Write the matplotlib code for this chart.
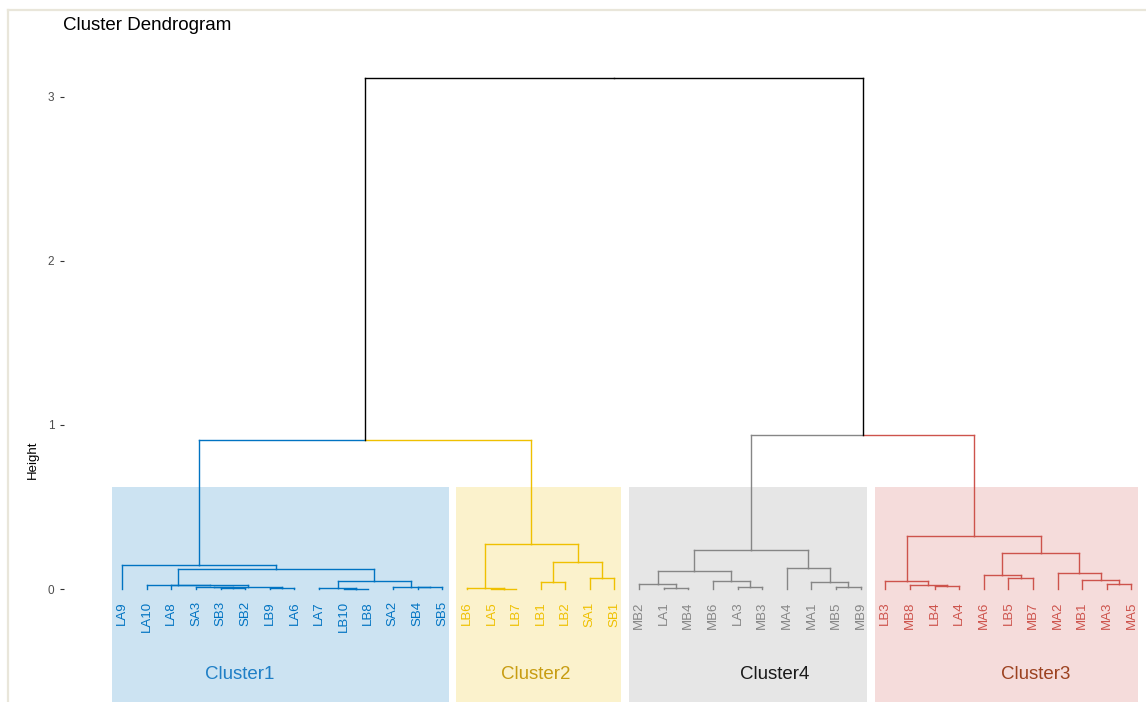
import matplotlib
matplotlib.use("Agg")
import matplotlib.pyplot as plt
from matplotlib.patches import Rectangle
from matplotlib.lines import Line2D

plt.rcParams['font.family'] = ['Liberation Sans', 'DejaVu Sans']

# leaves in dendrogram order
leaves = ["LA9", "LA10", "LA8", "SA3", "SB3", "SB2", "LB9", "LA6", "LA7", "LB10", "LB8", "SA2", "SB4", "SB5",
          "LB6", "LA5", "LB7", "LB1", "LB2", "SA1", "SB1",
          "MB2", "LA1", "MB4", "MB6", "LA3", "MB3", "MA4", "MA1", "MB5", "MB9",
          "LB3", "MB8", "LB4", "LA4", "MA6", "LB5", "MB7", "MA2", "MB1", "MA3", "MA5"]

# merges: (left, right) -> leaf name or index of earlier merge
merges = [
    ("SB3", "SB2"),     # 0
    ("SA3", 0),         # 1
    ("LB9", "LA6"),     # 2
    (1, 2),             # 3
    ("LA8", 3),         # 4
    ("LA10", 4),        # 5
    ("LB10", "LB8"),    # 6
    ("LA7", 6),         # 7
    ("SB4", "SB5"),     # 8
    ("SA2", 8),         # 9
    (7, 9),             # 10
    (5, 10),            # 11
    ("LA9", 11),        # 12  cluster1
    ("LA5", "LB7"),     # 13
    ("LB6", 13),        # 14
    ("LB1", "LB2"),     # 15
    ("SA1", "SB1"),     # 16
    (15, 16),           # 17
    (14, 17),           # 18  cluster2
    ("LA1", "MB4"),     # 19
    ("MB2", 19),        # 20
    ("LA3", "MB3"),     # 21
    ("MB6", 21),        # 22
    (20, 22),           # 23
    ("MB5", "MB9"),     # 24
    ("MA1", 24),        # 25
    ("MA4", 25),        # 26
    (23, 26),           # 27  cluster4
    ("LB4", "LA4"),     # 28
    ("MB8", 28),        # 29
    ("LB3", 29),        # 30
    ("LB5", "MB7"),     # 31
    ("MA6", 31),        # 32
    ("MA3", "MA5"),     # 33
    ("MB1", 33),        # 34
    ("MA2", 34),        # 35
    (32, 35),           # 36
    (30, 36),           # 37  cluster3
    (12, 18),           # 38
    (27, 37),           # 39
    (38, 39),           # 40
]
heights = [0.004, 0.010, 0.006, 0.014, 0.022, 0.025, 0.003, 0.006, 0.011, 0.013, 0.050, 0.120, 0.146,
           0.002, 0.004, 0.041, 0.065, 0.167, 0.274,
           0.004, 0.029, 0.014, 0.051, 0.112, 0.014, 0.041, 0.126, 0.238,
           0.018, 0.022, 0.049, 0.065, 0.085, 0.028, 0.055, 0.095, 0.218, 0.325,
           0.908, 0.939, 3.116]

cluster_names = ["Cluster1", "Cluster2", "Cluster4", "Cluster3"]
cluster_sizes = [14, 7, 10, 11]
cluster_colors = ["#0073C2", "#EFC000", "#868686", "#CD534C"]
cluster_text_colors = ["#1f7fc6", "#c89d12", "#1a1a1a", "#9c4220"]
cluster_label_x = [4.76, 16.8, 26.5, 37.1]

leaf_color = {}
start = 0
for size, col in zip(cluster_sizes, cluster_colors):
    for name in leaves[start:start + size]:
        leaf_color[name] = col
    start += size
leaf_pos = {name: i for i, name in enumerate(leaves)}

fig = plt.figure(figsize=(11.46, 7.02), dpi=100)
W, H = 1146, 702
ax = fig.add_axes([64 / W, 0, (W - 64) / W, (H - 45) / H])

lw = 1.0
nodes = {}


def node_info(ref):
    # returns x, height, colour (None = mixed)
    if isinstance(ref, str):
        return leaf_pos[ref], 0.0, leaf_color[ref]
    return nodes[ref]


for k, (a, b) in enumerate(merges):
    h = heights[k]
    xa, ha, ca = node_info(a)
    xb, hb, cb = node_info(b)
    xm = (xa + xb) / 2
    col_a = ca or "black"
    col_b = cb or "black"
    ax.plot([xa, xa], [ha, h], color=col_a, lw=lw, zorder=3)
    ax.plot([xb, xb], [hb, h], color=col_b, lw=lw, zorder=3)
    ax.plot([xa, xm], [h, h], color=col_a, lw=lw, zorder=3)
    ax.plot([xm, xb], [h, h], color=col_b, lw=lw, zorder=3)
    nodes[k] = (xm, h, ca if ca == cb else None)

# cluster rectangles and labels
start = 0
for name, size, col, tcol, lx in zip(cluster_names, cluster_sizes, cluster_colors,
                                     cluster_text_colors, cluster_label_x):
    x0 = start - 0.42
    x1 = start + size - 1 + 0.27
    ax.add_patch(Rectangle((x0, -1.0), x1 - x0, 1.0 + 0.622, facecolor=col, alpha=0.2,
                           edgecolor="none", zorder=1))
    ax.text(lx, -0.52, name, color=tcol, fontsize=13.5, ha="center", va="center", zorder=4)
    start += size

for name in leaves:
    ax.text(leaf_pos[name], -0.075, name, rotation=90, ha="center", va="top",
            fontsize=9.5, color=leaf_color[name], zorder=4)

ax.set_xlim(-2.36, 41.59)
ax.set_ylim(-0.689, 3.317)
ax.set_xticks([])
ax.set_yticks([0, 1, 2, 3])
ax.tick_params(axis="y", length=3, width=0.8, color="#333333", labelcolor="#4d4d4d",
               labelsize=8.5, pad=4)
for s in ax.spines.values():
    s.set_visible(False)

fig.text(33 / W, 1 - 460 / H, "Height", fontsize=9.5, rotation=90, ha="center", va="center")
fig.text(63 / W, 1 - 26 / H, "Cluster Dendrogram", fontsize=13.5, ha="left", va="center")

# light frame around the plot
fig.add_artist(Line2D([8 / W, 8 / W], [0, 1 - 10 / H], color="#e9e6da", lw=1.6))
fig.add_artist(Line2D([8 / W, 1], [1 - 10 / H, 1 - 10 / H], color="#e9e6da", lw=1.6))

fig.savefig("out.png", dpi=100)
